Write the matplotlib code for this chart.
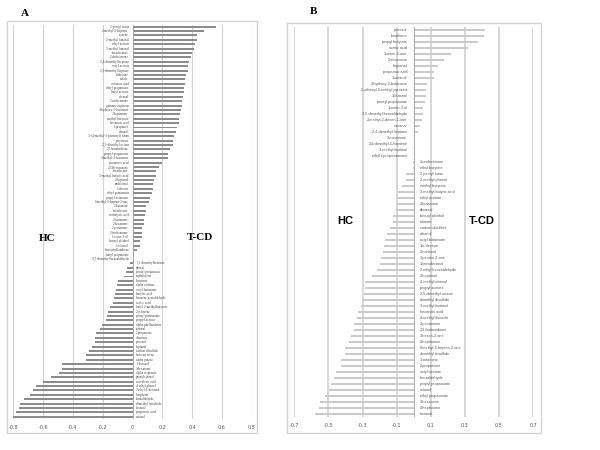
import matplotlib
matplotlib.use("Agg")
import matplotlib.pyplot as plt
from matplotlib.patches import Rectangle

# panel A: correlation loadings, HC (negative) vs T-CD (positive)
a_names = [
    "2-pentyl furan", "2-methyl-2-heptene", "styrene", "2-methyl butanal", "ethyl acetate",
    "3-methyl butanal", "tetradecanal", "2-dodecanone", "2,4-dimethyl heptane", "octyl acetate",
    "2,6-dimethyl heptane", "dodecane", "indole", "octanoic acid", "ethyl propanoate",
    "butyl acetate", "decanal", "2-undecanone", "gamma terpinene", "3-hydroxy-2-butanone",
    "2-heptanone", "methyl butyrate", "hexanoic acid", "1-propanol", "ethanol",
    "3-(4-methyl-3-pentenyl) furan", "p-cymene", "2,5-dimethyl octane", "2,3-butanedione",
    "propyl propanoate", "3-methyl-2-butanone", "pentanoic acid", "2(5H)-furanone", "tetradecane",
    "3-methyl butyric acid", "2-heptanol", "undecanal", "1-decene", "ethyl pentanoate",
    "propyl octanoate", "6-methyl-5-hepten-2-one", "2-butanone", "tetradecene", "isobutyric acid",
    "2-nonanone", "2-hexanone", "2-pentanone", "2-tridecanone", "1-octen-3-ol", "benzyl alcohol",
    "1-octanol", "beta phellandrene", "butyl propanoate", "3,5-dimethyl benzaldehyde",
    "1,2-dimethylbenzene", "phenol", "pentyl propanoate", "naphthalene", "limonene",
    "alpha cedrene", "octyl butanoate", "butyric acid", "benzene acetaldehyde", "acetic acid",
    "butyl 2-methylbutyrate", "2-octanone", "pentyl pentanoate", "propyl acetate",
    "alpha phellandrene", "furfural", "2-propanone", "4-nonene", "p-cresol", "heptanal",
    "carbon disulfide", "beta myrcene", "alpha pinene", "1-butanol", "3-hexanone",
    "alpha terpinene", "phenylethanol", "isovaleric acid", "4-ethyl phenol", "2-ethyl-1-hexanol",
    "thiophene", "benzaldehyde", "dimethyl trisulfide", "hexanal", "propanoic acid", "octanal",
]
a_vals = [
    0.56, 0.48, 0.43, 0.43, 0.42, 0.41, 0.40, 0.39, 0.38, 0.375,
    0.37, 0.36, 0.355, 0.35, 0.347, 0.345, 0.34, 0.335, 0.33, 0.325,
    0.32, 0.315, 0.31, 0.30, 0.29, 0.28, 0.275, 0.27, 0.25, 0.24,
    0.235, 0.195, 0.18, 0.16, 0.155, 0.145, 0.14, 0.137, 0.13, 0.115,
    0.108, 0.092, 0.09, 0.085, 0.08, 0.078, 0.067, 0.065, 0.063, 0.05,
    0.047, 0.03, 0.011, 0.005,
    -0.016, -0.034, -0.043, -0.054, -0.095, -0.105, -0.11, -0.12, -0.127, -0.13,
    -0.15, -0.165, -0.168, -0.177, -0.205, -0.22, -0.246, -0.253, -0.255, -0.27,
    -0.295, -0.31, -0.31, -0.47, -0.47, -0.49, -0.55, -0.60, -0.645, -0.67,
    -0.687, -0.727, -0.758, -0.765, -0.78, -0.80,
]
a_ticks = [-0.8, -0.6, -0.4, -0.2, 0, 0.2, 0.4, 0.6, 0.8]
a_ticklabels = ["-0.8", "-0.6", "-0.4", "-0.2", "0", "0.2", "0.4", "0.6", "0.8"]

# panel B
b_names = [
    "p-cresol", "thiophene", "propyl butyrate", "acetic acid", "1-octen-3-one", "2-decanone",
    "heptanal", "propanoic acid", "1-octanol", "3-hydroxy-2-butanone",
    "2-ethenyl-6-methyl pyrazine", "1-butanol", "pentyl propanoate", "1-octen-3-ol",
    "3,5-dimethyl benzaldehyde", "2-methyl-2-decen-1-one", "nonanal", "2,4-dimethyl heptane",
    "3-nonanone", "2,4-dimethyl-1-heptene", "3-methyl butanal", "ethyl cyclopentanone",
    "2-undecanone", "ethyl butyrate", "2-pentyl furan", "2-methyl phenol", "methyl butyrate",
    "3-methyl butyric acid", "ethyl acetate", "2-butanone", "decanal", "benzyl alcohol",
    "toluene", "carbon disulfide", "ethanol", "octyl butanoate", "1-tridecene", "2-nonanol",
    "3-penten-2-one", "1-tetradecanol", "2-ethyl benzaldehyde", "2-heptanol", "4-methyl phenol",
    "propyl acetate", "2,5-dimethyl octane", "dimethyl disulfide", "3-methyl butanol",
    "hexanoic acid", "4-methyl thiazole", "2-pentanone", "2,3-butanedione", "3-hexen-2-one",
    "2-heptanone", "6-methyl-5-hepten-2-one", "dimethyl trisulfide", "3-octanone", "2-propanone",
    "octyl acetate", "benzaldehyde", "propyl propanoate", "octanal", "ethyl propanoate",
    "3-hexanone", "4-heptanone", "hexanal",
]
b_vals = [
    0.42, 0.41, 0.38, 0.32, 0.22, 0.18, 0.14, 0.12, 0.12, 0.08,
    0.07, 0.07, 0.065, 0.057, 0.057, 0.05, 0.037, 0.024, 0.01, 0.005,
    0.003, 0.002,
    -0.002, -0.005, -0.042, -0.046, -0.066, -0.09, -0.094, -0.10, -0.106, -0.12,
    -0.122, -0.136, -0.154, -0.166, -0.174, -0.18, -0.194, -0.198, -0.214, -0.242,
    -0.286, -0.286, -0.294, -0.298, -0.306, -0.324, -0.334, -0.35, -0.35, -0.366,
    -0.378, -0.40, -0.404, -0.426, -0.426, -0.454, -0.468, -0.484, -0.494, -0.522,
    -0.55, -0.558, -0.576,
]
b_ticks = [-0.7, -0.5, -0.3, -0.1, 0.1, 0.3, 0.5, 0.7]
b_ticklabels = ["-0.7", "-0.5", "-0.3", "-0.1", "0.1", "0.3", "0.5", "0.7"]

W, H = 600, 450
fig = plt.figure(figsize=(6, 4.5), dpi=100)


def px_axes(x0, y0, x1, y1):
    return fig.add_axes([x0 / W, 1 - y1 / H, (x1 - x0) / W, (y1 - y0) / H])


def frame(x0, y0, x1, y1):
    fig.patches.append(Rectangle((x0 / W, 1 - y1 / H), (x1 - x0) / W, (y1 - y0) / H,
                                 transform=fig.transFigure, fill=False,
                                 edgecolor="#d4d4d4", lw=1.0))


def panel(ax, names, vals, lim, ticks, ticklabels, bar_color, grid_color, grid_lw,
          lab_off, lab_size, lab_family, lab_color, ylim):
    n = len(vals)
    ys = list(range(n))
    for t in ticks:
        if t != 0:
            ax.axvline(t, color=grid_color, lw=grid_lw, zorder=0)
    ax.barh(ys, vals, height=0.45, color=bar_color, zorder=2)
    ax.axvline(0, color="#a0a0a0", lw=0.6, zorder=3)
    # small category tick marks on the zero axis
    ax.hlines([y + 0.5 for y in ys[:-1]], -lim * 0.006, 0, color="#a0a0a0", lw=0.4, zorder=3)
    for y, name, v in zip(ys, names, vals):
        if v >= 0:
            ax.text(-lab_off, y, name, ha="right", va="center", fontsize=lab_size,
                    color=lab_color, family=lab_family)
        else:
            ax.text(lab_off, y, name, ha="left", va="center", fontsize=lab_size,
                    color=lab_color, family=lab_family)
    ax.set_xlim(-lim, lim)
    ax.set_ylim(*ylim)
    ax.set_xticks(ticks)
    ax.set_xticklabels(ticklabels, fontsize=3.5, color="#555555")
    ax.tick_params(axis="x", length=0, pad=4)
    ax.set_yticks([])
    for s in ax.spines.values():
        s.set_visible(False)
    ax.patch.set_alpha(0)


# panel A
frame(7, 21, 257, 433)
axA = px_axes(13.3, 25, 251.7, 419)
panel(axA, a_names, a_vals, 0.8, a_ticks, a_ticklabels, "#8c8c8c", "#d2d2d2", 0.8,
      0.025, 2.4, "Liberation Serif", "#444444", (89.52, -0.39))
axA.text(-0.57, 48.3, "HC", ha="center", va="center", fontsize=8, fontweight="bold",
         family="Liberation Serif")
axA.text(0.45, 48.1, "T-CD", ha="center", va="center", fontsize=8, fontweight="bold",
         family="Liberation Serif")
fig.text(25 / W, 1 - 14 / H, "A", ha="center", va="center", fontsize=8,
         fontweight="bold", family="Liberation Serif")

# panel B
frame(287, 23, 541, 433)
axB = px_axes(294.3, 27, 533, 417)
panel(axB, b_names, b_vals, 0.7, b_ticks, b_ticklabels, "#cacaca", "#d6d6d6", 1.4,
      0.037, 2.7, "Liberation Sans", "#555555", (64.5, -0.5))
axB.text(-0.4, 31.8, "HC", ha="center", va="center", fontsize=8, fontweight="bold",
         family="Liberation Sans")
axB.text(0.4, 31.8, "T-CD", ha="center", va="center", fontsize=8, fontweight="bold",
         family="Liberation Sans")
fig.text(314 / W, 1 - 12 / H, "B", ha="center", va="center", fontsize=8,
         fontweight="bold", family="Liberation Serif")

fig.savefig("out.png", dpi=100, facecolor="white")
